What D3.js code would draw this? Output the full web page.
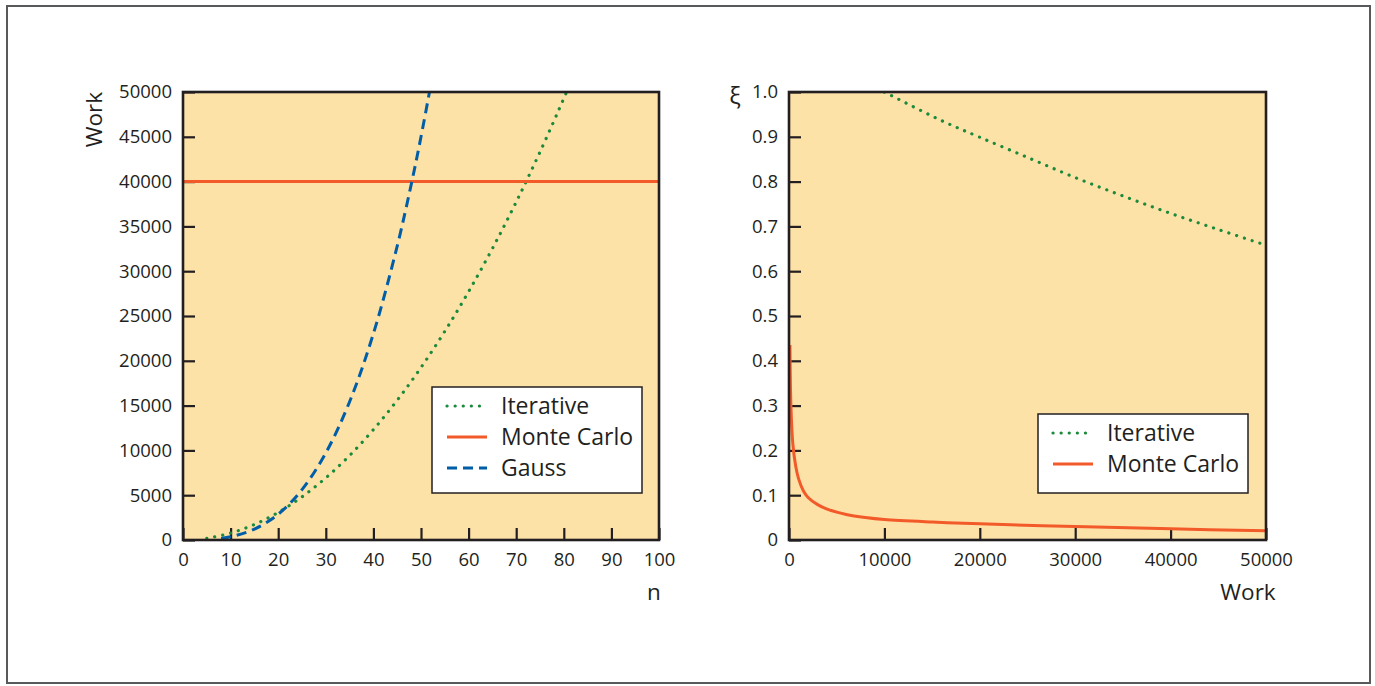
<!DOCTYPE html>
<html>
<head>
<meta charset="utf-8">
<script src="https://cdn.jsdelivr.net/npm/d3@7"></script>
<style>
  body { margin: 0; background: #fff; }
  svg text { font-family: "Open Sans", "Noto Sans", sans-serif; fill: #231f20; }
</style>
</head>
<body>
<svg id="viz" width="1375" height="686"></svg>
<script>
"use strict";
// left panel: work vs n
const nTicks = [0, 10, 20, 30, 40, 50, 60, 70, 80, 90, 100];
const workTicks = [0, 5000, 10000, 15000, 20000, 25000, 30000, 35000, 40000, 45000, 50000];
const iterN = [5, 10, 15, 20, 25, 30, 35, 40, 45, 50, 55, 60, 65, 70, 75, 80, 81];
const iterWork = [190, 770, 1730, 3080, 4810, 6930, 9430, 12320, 15590, 19250, 23290, 27720, 32530, 37730, 43310, 49280, 50520];
const gaussN = [8, 10, 15, 20, 25, 30, 35, 40, 45, 48, 50, 52];
const gaussWork = [180, 360, 1215, 2880, 5625, 9720, 15435, 23040, 32805, 39810, 45000, 50620];
const mcN = [0, 100];
const mcWork = [40000, 40000];
// right panel: xi vs work
const wTicks = [0, 10000, 20000, 30000, 40000, 50000];
const xiTicks = [0, 0.1, 0.2, 0.3, 0.4, 0.5, 0.6, 0.7, 0.8, 0.9, 1.0];
const iterW = [10000, 16000, 20000, 25000, 30000, 35000, 40000, 45000, 50000];
const iterXi = [1.0, 0.936, 0.899, 0.854, 0.809, 0.768, 0.729, 0.693, 0.658];
const mcW = [100, 200, 400, 700, 1000, 1500, 2000, 3000, 4000, 6000, 8000, 10000, 15000, 20000, 30000, 40000, 50000];
const mcXi = [0.435, 0.3, 0.215, 0.165, 0.137, 0.11, 0.095, 0.079, 0.069, 0.057, 0.05, 0.0455, 0.04, 0.036, 0.03, 0.025, 0.0205];

const svg = d3.select("#viz");
const col = { green: "#1b8a3a", orange: "#f25a2a", blue: "#005ea8", bg: "#fde2a8", ink: "#231f20" };

svg.append("rect")
    .attr("x", 7).attr("y", 6).attr("width", 1363).attr("height", 677)
    .attr("fill", "#fff").attr("stroke", "#58595b").attr("stroke-width", 2);

const styles = {
    dot: { color: col.green, dash: "0.1 8", cap: "round", width: 3.2 },
    solid: { color: col.orange, dash: null, cap: "butt", width: 3 },
    dash: { color: col.blue, dash: "10 6", cap: "butt", width: 3 }
};

function panel(opts) {
    const x = d3.scaleLinear().domain(opts.xDomain).range([opts.left, opts.right]);
    const y = d3.scaleLinear().domain(opts.yDomain).range([540, 92]);
    const g = svg.append("g");
    g.append("rect")
        .attr("x", opts.left).attr("y", 92)
        .attr("width", opts.right - opts.left).attr("height", 448)
        .attr("fill", col.bg);
    const clipId = "clip" + opts.id;
    svg.append("clipPath").attr("id", clipId)
        .append("rect").attr("x", opts.left).attr("y", 92)
        .attr("width", opts.right - opts.left).attr("height", 448);

    // inward ticks
    const xAxis = d3.axisBottom(x).tickValues(opts.xTicks).tickSize(-12).tickPadding(13)
        .tickFormat(opts.xFormat);
    const yAxis = d3.axisLeft(y).tickValues(opts.yTicks).tickSize(-12).tickPadding(11)
        .tickFormat(opts.yFormat);
    const gx = g.append("g").attr("transform", `translate(0, 540)`).call(xAxis);
    const gy = g.append("g").attr("transform", `translate(${opts.left}, 0)`).call(yAxis);
    [gx, gy].forEach(a => {
        a.select(".domain").remove();
        a.selectAll(".tick line").attr("stroke", col.ink).attr("stroke-width", 2.2);
        a.selectAll(".tick text").attr("font-size", 18.5).attr("fill", col.ink)
            .style("font-family", '"Open Sans", sans-serif');
    });

    const line = d3.line().x(d => x(d[0])).y(d => y(d[1])).curve(d3.curveCatmullRom.alpha(0.5));
    opts.series.forEach(s => {
        const st = styles[s.style];
        g.append("path")
            .attr("clip-path", `url(#${clipId})`)
            .attr("d", line(d3.zip(s.xs, s.ys)))
            .attr("fill", "none")
            .attr("stroke", st.color)
            .attr("stroke-width", st.width)
            .attr("stroke-linecap", st.cap)
            .attr("stroke-dasharray", st.dash);
    });

    g.append("rect")
        .attr("x", opts.left).attr("y", 92)
        .attr("width", opts.right - opts.left).attr("height", 448)
        .attr("fill", "none").attr("stroke", col.ink).attr("stroke-width", 2.6);

    // legend
    const lg = g.append("g").attr("transform", `translate(${opts.legend.x}, ${opts.legend.y})`);
    lg.append("rect").attr("width", 210).attr("height", opts.legend.h)
        .attr("fill", "#fff").attr("stroke", col.ink).attr("stroke-width", 1.5);
    opts.series.forEach((s, i) => {
        const st = styles[s.style];
        const yy = 19 + i * 31;
        lg.append("line").attr("x1", 15).attr("x2", 55).attr("y1", yy).attr("y2", yy)
            .attr("stroke", st.color).attr("stroke-width", st.width)
            .attr("stroke-linecap", st.cap).attr("stroke-dasharray", st.dash);
        lg.append("text").attr("x", 69).attr("y", yy + 8).attr("font-size", 23).text(s.name);
    });
    return { x, y, g };
}

const left = panel({
    id: "L", left: 183, right: 659,
    xDomain: [0, 100], yDomain: [0, 50000],
    xTicks: nTicks, yTicks: workTicks,
    xFormat: d3.format("d"), yFormat: d3.format("d"),
    series: [
        { name: "Iterative", style: "dot", xs: iterN, ys: iterWork },
        { name: "Monte Carlo", style: "solid", xs: mcN, ys: mcWork },
        { name: "Gauss", style: "dash", xs: gaussN, ys: gaussWork }
    ],
    legend: { x: 432, y: 387, h: 106 }
});

const right = panel({
    id: "R", left: 789, right: 1266,
    xDomain: [0, 50000], yDomain: [0, 1],
    xTicks: wTicks, yTicks: xiTicks,
    xFormat: d3.format("d"), yFormat: v => v === 0 ? "0" : d3.format(".1f")(v),
    series: [
        { name: "Iterative", style: "dot", xs: iterW, ys: iterXi },
        { name: "Monte Carlo", style: "solid", xs: mcW, ys: mcXi }
    ],
    legend: { x: 1038, y: 414, h: 79 }
});

// axis titles
svg.append("text").attr("transform", "translate(102, 92) rotate(-90)")
    .attr("text-anchor", "end").attr("font-size", 22.5).text("Work");
svg.append("text").attr("x", 654).attr("y", 600).attr("text-anchor", "middle")
    .attr("font-size", 22.5).text("n");
svg.append("text").attr("x", 1248).attr("y", 600).attr("text-anchor", "middle")
    .attr("font-size", 22.5).text("Work");
svg.append("text").attr("x", 735).attr("y", 104).attr("text-anchor", "middle")
    .attr("font-size", 24).text("ξ");
</script>
</body>
</html>
